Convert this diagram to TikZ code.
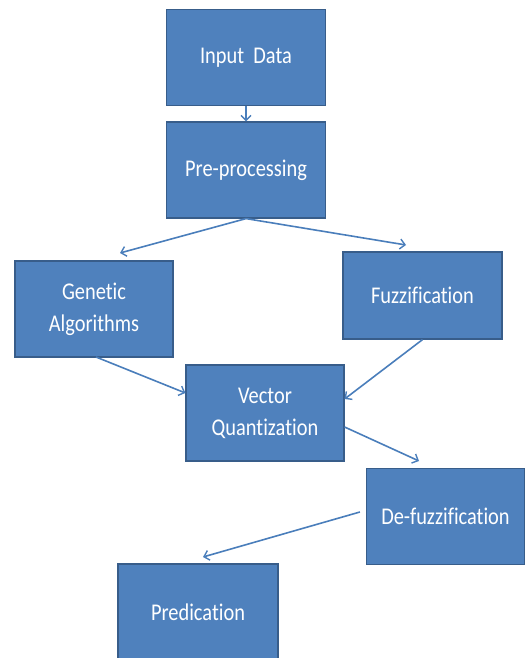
\documentclass[tikz,border=0pt]{standalone}
\usepackage{fontspec}
\usetikzlibrary{arrows.meta}
\newfontfamily\boxfont[FakeStretch=0.85,Ligatures={NoCommon,NoRare,NoContextual},Contextuals=NoAlternate]{Carlito}
\definecolor{boxfill}{HTML}{4F81BD}
\definecolor{boxline}{HTML}{385D8A}
\definecolor{arrowcol}{HTML}{4A7EBB}
\begin{document}
\begin{tikzpicture}[x=1pt,y=-1pt,
  stepbox/.style={draw=boxline,line width=1.2pt,fill=boxfill,text=white,
    minimum width=159pt,minimum height=96pt,inner sep=0pt,align=center,
    font=\boxfont\fontsize{24}{32}\selectfont},
  conn/.style={draw=arrowcol,line width=1.6pt,-{Straight Barb[length=5pt,width=10pt,line width=1.4pt]}}]
\useasboundingbox (0,0) rectangle (526,658);
\begin{scope}
\clip (0,0) rectangle (526,658);
\node[stepbox] (input) at (246,57.5) {Input\ \ Data};
\node[stepbox] (pre) at (246,170) {Pre-processing};
\node[stepbox,minimum width=158pt] (gen) at (94,309) {Genetic\\Algorithms};
\node[stepbox,minimum height=87pt] (fuzz) at (422.5,295.5) {Fuzzification};
\node[stepbox,minimum width=158pt] (vq) at (265,413) {Vector\\Quantization};
\node[stepbox,minimum width=158pt] (defuzz) at (445.5,516.5) {De-fuzzification};
\node[stepbox,minimum width=160pt] (pred) at (198,612) {Predication};
\coordinate (c1) at (120,253);
\coordinate (c2) at (406,245);
\coordinate (c3) at (419,461);
\coordinate (c4) at (203,557);
\draw[conn] (input.south) -- (pre.north);
\draw[conn] (pre.south) -- (c1);
\draw[conn] (pre.south) -- (c2);
\draw[conn] (96,357) -- (vq.west |- 0,393);
\draw[conn] (fuzz.south) -- (vq.east |- 0,399);
\draw[conn] (vq.east |- 0,427) -- (c3);
\draw[conn] (defuzz.west |- 0,512) ++(-6,0) -- (c4);
\end{scope}
\end{tikzpicture}
\end{document}
